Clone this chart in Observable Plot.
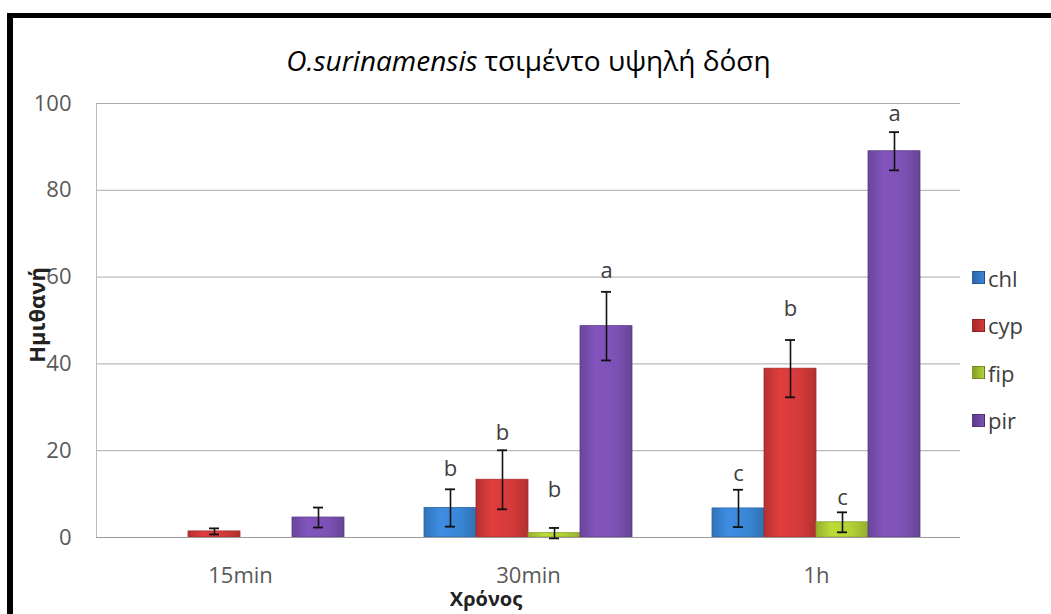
<!DOCTYPE html>
<html>
<head>
<meta charset="utf-8">
<script src="https://cdn.jsdelivr.net/npm/d3@7"></script>
<script src="https://cdn.jsdelivr.net/npm/@observablehq/plot@0.6"></script>
<style>
  html, body { margin: 0; padding: 0; background: #fff; overflow: hidden; }
  #wrap { position: relative; width: 1051px; height: 614px; font-family: "Open Sans", sans-serif; }
  #border { position: absolute; left: 7px; top: 13px; right: -20px; bottom: -20px; border-left: 6px solid #000; border-top: 5px solid #000; }
  #chart { position: absolute; left: 0; top: 0; }
  #title { position: absolute; left: 0; width: 1051px; top: 41px; text-align: center; font-size: 28px; color: #000; white-space: nowrap; padding-left: 6px; box-sizing: border-box; }
  #ylabel { position: absolute; left: 36px; top: 315px; transform: translate(-50%, -50%) rotate(-90deg); font-size: 22px; font-weight: bold; color: #222; white-space: nowrap; }
  #xlabel { position: absolute; left: 486px; top: 587px; transform: translateX(-50%); font-size: 20px; line-height: 24px; font-weight: bold; color: #222; white-space: nowrap; }
  #legend { position: absolute; left: 972px; top: 254px; }
  .item { display: flex; align-items: center; height: 47.5px; font-size: 22px; color: #404040; }
  .sw { width: 11px; height: 11px; margin-right: 3px; border: 1px solid rgba(0,0,0,0.25); }
</style>
</head>
<body>
<div id="wrap">
  <div id="border"></div>
  <div id="chart"></div>
  <div id="title"><i>O.surinamensis</i> τσιμέντο υψηλή δόση</div>
  <div id="ylabel">Ημιθανή</div>
  <div id="xlabel">Χρόνος</div>
  <div id="legend"></div>
</div>
<script>
// ---- data ----
const times = ["15min", "30min", "1h"];
const series = ["chl", "cyp", "fip", "pir"];
const colors = ["#3a86d6", "#d43a3a", "#b2d034", "#7c51b4"];
const edgeColors = ["#2c66a8", "#a82a2a", "#86a028", "#5c3a8c"];

const chl = [0, 6.8, 6.7];
const cyp = [1.4, 13.3, 38.9];
const fip = [0, 1.0, 3.5];
const pir = [4.6, 48.7, 89.0];

const chlErr = [0, 4.3, 4.3];
const cypErr = [0.7, 6.8, 6.6];
const fipErr = [0, 1.2, 2.3];
const pirErr = [2.3, 7.9, 4.4];

const chlLetter = ["", "b", "c"];
const cypLetter = ["", "b", "b"];
const fipLetter = ["", "b", "c"];
const pirLetter = ["", "a", "a"];

// height (in data units) at which each letter sits
const chlLetterAt = [null, 15.9, 14.7];
const cypLetterAt = [null, 24.1, 52.7];
const fipLetterAt = [null, 11.0, 9.0];
const pirLetterAt = [null, 61.4, 97.5];

const yTicks = [0, 20, 40, 60, 80, 100];

// ---- build table ----
const vals = {chl, cyp, fip, pir};
const errs = {chl: chlErr, cyp: cypErr, fip: fipErr, pir: pirErr};
const lets = {chl: chlLetter, cyp: cypLetter, fip: fipLetter, pir: pirLetter};
const letAt = {chl: chlLetterAt, cyp: cypLetterAt, fip: fipLetterAt, pir: pirLetterAt};
const rows = [];
times.forEach((t, i) => series.forEach(s => rows.push({
  time: t, series: s, value: vals[s][i], err: errs[s][i], letter: lets[s][i], letterAt: letAt[s][i]
})));
const errRows = rows.filter(d => d.err > 0);
const letterRows = rows.filter(d => d.letter);

const barMarks = series.map((s, k) => Plot.barY(rows.filter(d => d.series === s && d.value > 0), {
  fx: "time", x: "series", y: "value",
  fill: `url(#grad-${s})`, stroke: edgeColors[k], strokeWidth: 0.8
}));

const chart = Plot.plot({
  width: 1051,
  height: 614,
  marginTop: 103,
  marginBottom: 77,
  marginLeft: 95,
  marginRight: 91,
  style: {fontFamily: "Open Sans, sans-serif", background: "transparent"},
  fx: {domain: times, padding: 0},
  x: {domain: series, paddingInner: 0, paddingOuter: 0.746, axis: null},
  y: {domain: [0, 100]},
  marks: [
    Plot.ruleY(yTicks.filter(v => v > 0), {stroke: "#a9a9a9", strokeWidth: 1}),
    Plot.frame({anchor: "left", stroke: "#bdbdbd", fx: () => times[0]}),
    ...barMarks,
    Plot.ruleY([0], {stroke: "#9a9a9a", strokeWidth: 1.2}),
    Plot.ruleX(errRows, {fx: "time", x: "series", y1: d => d.value - d.err, y2: d => d.value + d.err, stroke: "#111", strokeWidth: 1.6}),
    Plot.tickY(errRows, {fx: "time", x: "series", y: d => d.value - d.err, inset: 21, stroke: "#111", strokeWidth: 1.8}),
    Plot.tickY(errRows, {fx: "time", x: "series", y: d => d.value + d.err, inset: 21, stroke: "#111", strokeWidth: 1.8}),
    Plot.text(letterRows, {fx: "time", x: "series", y: "letterAt", text: "letter", fontSize: 22, fill: "#404040"}),
    Plot.axisY({ticks: yTicks, tickSize: 0, tickPadding: 25, fontSize: 22, fill: "#595959", label: null}),
    Plot.axisFx({anchor: "bottom", tickSize: 0, tickPadding: 30, fontSize: 22, fill: "#595959", label: null})
  ]
});

// gradients for glossy bars
const svgNS = "http://www.w3.org/2000/svg";
const defs = document.createElementNS(svgNS, "defs");
series.forEach((s, k) => {
  const g = document.createElementNS(svgNS, "linearGradient");
  g.setAttribute("id", `grad-${s}`);
  g.setAttribute("x1", "0"); g.setAttribute("x2", "1"); g.setAttribute("y1", "0"); g.setAttribute("y2", "0");
  const c = d3.color(colors[k]);
  [[0, c.darker(0.45)], [0.3, c.brighter(0.15)], [0.7, c], [1, c.darker(0.5)]].forEach(([o, col]) => {
    const st = document.createElementNS(svgNS, "stop");
    st.setAttribute("offset", o);
    st.setAttribute("stop-color", col.formatHex());
    g.appendChild(st);
  });
  defs.appendChild(g);
});
chart.insertBefore(defs, chart.firstChild);
document.getElementById("chart").appendChild(chart);

// legend
const legend = document.getElementById("legend");
series.forEach((s, k) => {
  const it = document.createElement("div");
  it.className = "item";
  it.innerHTML = `<span class="sw" style="background:linear-gradient(90deg, ${edgeColors[k]}, ${colors[k]})"></span>${s}`;
  legend.appendChild(it);
});
</script>
</body>
</html>
